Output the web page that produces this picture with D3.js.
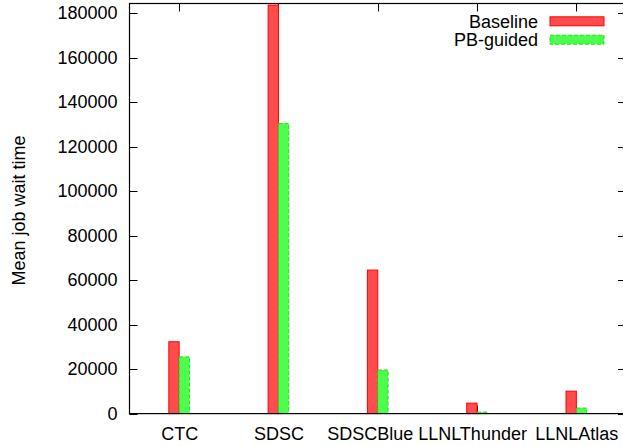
<!DOCTYPE html>
<html>
<head>
<meta charset="utf-8">
<script src="https://cdn.jsdelivr.net/npm/d3@7"></script>
<style>
  html, body { margin: 0; padding: 0; background: #fff; }
  svg { display: block; }
  text { font-family: "Liberation Sans", Arial, Helvetica, sans-serif; fill: #000; }
</style>
</head>
<body>
<svg id="chart" width="623" height="446"></svg>
<script>
// Machine traces on the x axis
const categories = ["CTC", "SDSC", "SDSCBlue", "LLNLThunder", "LLNLAtlas"];
// Mean job wait time per trace
const baseline = [32300, 183600, 64500, 4700, 10100];
const pbGuided = [25500, 130400, 19600, 700, 2500];
// Y axis ticks
const yTicks = [0, 20000, 40000, 60000, 80000, 100000, 120000, 140000, 160000, 180000];
const yMax = 184300;

const series = [
  { name: "Baseline", values: baseline, fill: "#ff4c4c", stroke: "#ff0000", dash: null, offset: -1 },
  { name: "PB-guided", values: pbGuided, fill: "#4cff4c", stroke: "#22dd22", dash: "4,2", offset: 0 }
];

const svg = d3.select("#chart");
const plotL = 129.5, plotR = 626, plotT = 3.5, plotB = 413.6;
const fontSize = 18;

const x = d3.scaleLinear().domain([-0.5, categories.length - 0.5]).range([plotL, plotR]);
const y = d3.scaleLinear().domain([0, yMax]).range([plotB, plotT]);
const barW = 0.104; // bar width in category units

// Ticks on all four sides, pointing inward
const tickLen = 8;
const ticks = svg.append("g").attr("stroke", "#000").attr("stroke-width", 1);
yTicks.forEach(v => {
  const yy = Math.round(y(v)) + 0.5;
  ticks.append("line").attr("x1", plotL).attr("x2", plotL + tickLen).attr("y1", yy).attr("y2", yy);
  ticks.append("line").attr("x1", plotR).attr("x2", plotR - tickLen).attr("y1", yy).attr("y2", yy);
});
categories.forEach((c, i) => {
  const xx = Math.round(x(i)) + 0.5;
  ticks.append("line").attr("x1", xx).attr("x2", xx).attr("y1", plotT).attr("y2", plotT + tickLen);
  ticks.append("line").attr("x1", xx).attr("x2", xx).attr("y1", plotB).attr("y2", plotB - tickLen);
});

// Bars: baseline to the left of each tick, PB-guided to the right
series.forEach(s => {
  svg.append("g").selectAll("rect").data(s.values).join("rect")
    .attr("x", (d, i) => x(i + s.offset * barW))
    .attr("y", d => y(d))
    .attr("width", x(barW) - x(0))
    .attr("height", d => plotB - y(d))
    .attr("fill", s.fill)
    .attr("stroke", s.stroke)
    .attr("stroke-width", 1)
    .attr("stroke-dasharray", s.dash);
});

// Frame
svg.append("rect")
  .attr("x", plotL).attr("y", plotT)
  .attr("width", plotR - plotL).attr("height", plotB - plotT)
  .attr("fill", "none").attr("stroke", "#000").attr("stroke-width", 1.2);

// Y tick labels
const yAxis = d3.axisLeft(y).tickValues(yTicks).tickSize(0).tickPadding(12).tickFormat(d3.format("d"));
const gy = svg.append("g").attr("transform", `translate(${plotL},0)`).call(yAxis);
gy.select(".domain").remove();
gy.selectAll("text").attr("font-size", fontSize).attr("font-family", null).attr("fill", "#000");

// X tick labels (the two long middle names sit slightly left so they don't touch)
const labelShift = { SDSCBlue: -8, LLNLThunder: -5 };
const gx = svg.append("g").attr("transform", `translate(0,${plotB})`)
  .call(d3.axisBottom(x).tickValues(d3.range(categories.length)).tickSize(0).tickPadding(14)
    .tickFormat(i => categories[i]));
gx.select(".domain").remove();
gx.selectAll("text")
  .attr("font-size", fontSize).attr("font-family", null).attr("fill", "#000")
  .attr("dx", i => labelShift[categories[i]] || 0);

// Y axis title
svg.append("text")
  .attr("transform", `translate(24.5,${(plotT + plotB) / 2 + 2}) rotate(-90)`)
  .attr("text-anchor", "middle")
  .attr("font-size", fontSize)
  .text("Mean job wait time");

// Legend
const legend = svg.append("g");
series.forEach((s, i) => {
  const ly = 21.3 + i * 18.4;
  legend.append("text")
    .attr("x", 538).attr("y", ly).attr("dy", "0.35em")
    .attr("text-anchor", "end")
    .attr("font-size", fontSize)
    .text(s.name);
  legend.append("rect")
    .attr("x", 550).attr("y", ly - 4.5)
    .attr("width", 54).attr("height", 9)
    .attr("fill", s.fill).attr("stroke", s.stroke)
    .attr("stroke-dasharray", s.dash);
});
</script>
</body>
</html>
